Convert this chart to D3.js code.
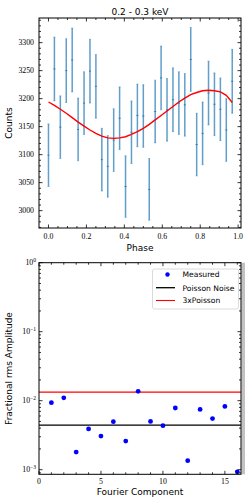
<!DOCTYPE html>
<html><head><meta charset="utf-8">
<script src="https://cdn.jsdelivr.net/npm/d3@7"></script>
<style>body{margin:0;background:#fff;} svg{display:block}</style>
</head><body><svg id="c" width="252" height="504"></svg>
<script>
// ---- data ----
const title = "0.2 - 0.3 keV";
const phase = [0.0,0.03125,0.0625,0.09375,0.125,0.15625,0.1875,0.21875,0.25,0.28125,0.3125,0.34375,0.375,0.40625,0.4375,0.46875,0.5,0.53125,0.5625,0.59375,0.625,0.65625,0.6875,0.71875,0.75,0.78125,0.8125,0.84375,0.875,0.90625,0.9375,0.96875];
const counts = [3099,3253,3149,3250,3269,3145,3192,3249,3222,3091,3079,3126,3165,3043,3140,3170,3169,3038,3177,3237,3180,3198,3192,3189,3270,3118,3138,3210,3190,3181,3144,3231];
const countErr = [56,57,56,57,57,56,56,57,57,56,55,56,56,55,56,56,56,55,56,57,56,57,56,56,57,56,56,57,56,56,56,57];
const fitCurve = [3194,3188,3181,3174,3166,3158,3151,3144,3138,3133,3130,3129,3130,3132,3136,3141,3147,3154,3162,3170,3178,3186,3194,3201,3207,3211,3214,3215,3214,3212,3206,3193];
const harmonic = [1,2,3,4,5,6,7,8,9,10,11,12,13,14,15,16];
const rmsAmp = [0.00935,0.0110,0.00180,0.00389,0.00307,0.00497,0.00260,0.01365,0.00501,0.00434,0.00783,0.00135,0.00748,0.00550,0.00827,0.00093];
const poissonLevel = 0.00443;
const poisson3Level = 0.0133;
const xTicksTop = [0,0.2,0.4,0.6,0.8,1.0];
const yTicksTop = [3000,3050,3100,3150,3200,3250,3300];
const xTicksBot = [0,5,10,15];
const yTicksBot = [1e-3,1e-2,1e-1,1];
const legendLabels = ["Measured","Poisson Noise","3xPoisson"];

// ---- drawing ----
const svg = d3.select("#c");
const serif = "'Liberation Serif','DejaVu Serif',serif";
const sans = "'DejaVu Sans',sans-serif";

// ===== Top panel =====
const T = {l:39, r:241, t:18, b:228};
const xT = d3.scaleLinear().domain([-0.05,1.015]).range([T.l,T.r]);
const yT = d3.scaleLinear().domain([2969,3344]).range([T.b,T.t]);
const gT = svg.append("g");

gT.append("text").attr("x",(T.l+T.r)/2).attr("y",14.5).attr("text-anchor","middle")
  .attr("font-family",sans).attr("font-size",9).text(title);

// error bars
const eb = gT.append("g");
phase.forEach((p,i)=>{
  const x = xT(p);
  eb.append("line").attr("x1",x).attr("x2",x).attr("y1",yT(counts[i]-countErr[i])).attr("y2",yT(counts[i]+countErr[i]))
    .attr("stroke","#1f77b4").attr("stroke-width",1.5).attr("opacity",0.7);
  [counts[i]-countErr[i],counts[i]+countErr[i]].forEach(v=>{
    eb.append("line").attr("x1",x-1).attr("x2",x+1).attr("y1",yT(v)).attr("y2",yT(v))
      .attr("stroke","#1f77b4").attr("stroke-width",0.8).attr("opacity",0.5);
  });
  eb.append("line").attr("x1",x-1).attr("x2",x+1).attr("y1",yT(counts[i])).attr("y2",yT(counts[i]))
    .attr("stroke","#1f77b4").attr("stroke-width",1).attr("opacity",0.9);
});
// fit
gT.append("path").datum(phase.map((p,i)=>[p,fitCurve[i]]))
  .attr("d",d3.line().x(d=>xT(d[0])).y(d=>yT(d[1])).curve(d3.curveLinear))
  .attr("fill","none").attr("stroke","#ff0000").attr("stroke-width",1.4);

function frame(g,B){
  g.append("rect").attr("x",B.l).attr("y",B.t).attr("width",B.r-B.l).attr("height",B.b-B.t)
    .attr("fill","none").attr("stroke","#000").attr("stroke-width",1);
}
function ticksX(g,B,scale,vals,len){
  vals.forEach(v=>{const x=scale(v);
    g.append("line").attr("x1",x).attr("x2",x).attr("y1",B.b).attr("y2",B.b-len).attr("stroke","#000").attr("stroke-width",0.8);
    g.append("line").attr("x1",x).attr("x2",x).attr("y1",B.t).attr("y2",B.t+len).attr("stroke","#000").attr("stroke-width",0.8);
  });
}
function ticksY(g,B,scale,vals,len){
  vals.forEach(v=>{const y=scale(v);
    g.append("line").attr("x1",B.l).attr("x2",B.l+len).attr("y1",y).attr("y2",y).attr("stroke","#000").attr("stroke-width",0.8);
    g.append("line").attr("x1",B.r).attr("x2",B.r-len).attr("y1",y).attr("y2",y).attr("stroke","#000").attr("stroke-width",0.8);
  });
}
frame(gT,T);
ticksX(gT,T,xT,xTicksTop,3.5);
ticksX(gT,T,xT,d3.range(0,21).map(k=>k*0.05).filter(v=>Math.abs((v/0.2)-Math.round(v/0.2))>1e-6),2);
ticksY(gT,T,yT,yTicksTop,3.5);
ticksY(gT,T,yT,d3.range(2970,3341,10).filter(v=>v%50!==0),2);
xTicksTop.forEach(v=>gT.append("text").attr("x",xT(v)).attr("y",T.b+10.5).attr("text-anchor","middle")
  .attr("font-family",serif).attr("font-size",7.8).text(v.toFixed(1)));
yTicksTop.forEach(v=>gT.append("text").attr("x",T.l-5).attr("y",yT(v)+2.7).attr("text-anchor","end")
  .attr("font-family",serif).attr("font-size",7.8).text(v));
gT.append("text").attr("x",(T.l+T.r)/2).attr("y",250.5).attr("text-anchor","middle")
  .attr("font-family",sans).attr("font-size",9).text("Phase");
gT.append("text").attr("transform",`translate(12,${(T.t+T.b)/2}) rotate(-90)`).attr("text-anchor","middle")
  .attr("font-family",sans).attr("font-size",9).text("Counts");

// ===== Bottom panel =====
const B = {l:39, r:241, t:262.7, b:474.3};
const xB = d3.scaleLinear().domain([0,16.3]).range([B.l,B.r]);
const yB = d3.scaleLog().domain([8.57e-4,1]).range([B.b,B.t]);
const gB = svg.append("g");
gB.append("rect").attr("x",B.r+0.5).attr("y",B.t).attr("width",3.5).attr("height",B.b-B.t)
  .attr("fill","#999").attr("opacity",0.6);
gB.append("line").attr("x1",B.l).attr("x2",B.r).attr("y1",yB(poissonLevel)).attr("y2",yB(poissonLevel))
  .attr("stroke","#000").attr("stroke-width",1.3);
gB.append("line").attr("x1",B.l).attr("x2",B.r).attr("y1",yB(poisson3Level)).attr("y2",yB(poisson3Level))
  .attr("stroke","#ff0000").attr("stroke-width",1.1);
gB.selectAll("circle.m").data(harmonic).enter().append("circle")
  .attr("cx",d=>xB(d)).attr("cy",(d,i)=>yB(rmsAmp[i])).attr("r",2.4).attr("fill","#0000ff");
frame(gB,B);
ticksX(gB,B,xB,xTicksBot,3.5);
ticksX(gB,B,xB,d3.range(1,17).filter(v=>v%5!==0),2);
ticksY(gB,B,yB,yTicksBot,3.5);
const minorLog=[];
[1e-4,1e-3,1e-2,1e-1].forEach(d=>{for(let k=2;k<10;k++){const v=d*k; if(v>=8.57e-4&&v<=1) minorLog.push(v);}});
ticksY(gB,B,yB,minorLog,2);
xTicksBot.forEach(v=>gB.append("text").attr("x",xB(v)).attr("y",B.b+9.5).attr("text-anchor","middle")
  .attr("font-family",serif).attr("font-size",7.8).text(v));
yTicksBot.forEach(v=>{
  const e=Math.round(Math.log10(v));
  const t=gB.append("text").attr("x",B.l-3).attr("y",yB(v)+2.7).attr("text-anchor","end")
    .attr("font-family",serif).attr("font-size",7.8);
  t.append("tspan").text("10");
  t.append("tspan").attr("dy",-3.2).attr("font-size",5.6).text(e===0?"0":"\u2212"+Math.abs(e));
});
gB.append("text").attr("x",(B.l+B.r)/2).attr("y",494.5).attr("text-anchor","middle")
  .attr("font-family",sans).attr("font-size",9).text("Fourier Component");
gB.append("text").attr("transform",`translate(12,${(B.t+B.b)/2}) rotate(-90)`).attr("text-anchor","middle")
  .attr("font-family",sans).attr("font-size",9).text("Fractional rms Amplitude");

// legend
const L = gB.append("g");
L.append("rect").attr("x",152.5).attr("y",269).attr("width",86).attr("height",40).attr("rx",2)
  .attr("fill","#fff").attr("fill-opacity",0.8).attr("stroke","#d0d0d0").attr("stroke-width",0.8);
const ly=[274.5,287.7,300.5];
L.append("circle").attr("cx",167.5).attr("cy",ly[0]).attr("r",2.2).attr("fill","#0000ff");
L.append("line").attr("x1",156).attr("x2",175).attr("y1",ly[1]).attr("y2",ly[1]).attr("stroke","#000").attr("stroke-width",1.3);
L.append("line").attr("x1",156).attr("x2",175).attr("y1",ly[2]).attr("y2",ly[2]).attr("stroke","#ff0000").attr("stroke-width",1.1);
legendLabels.forEach((s,i)=>L.append("text").attr("x",182.5).attr("y",ly[i]+2.8)
  .attr("font-family",sans).attr("font-size",7.6).text(s));
</script></body></html>
